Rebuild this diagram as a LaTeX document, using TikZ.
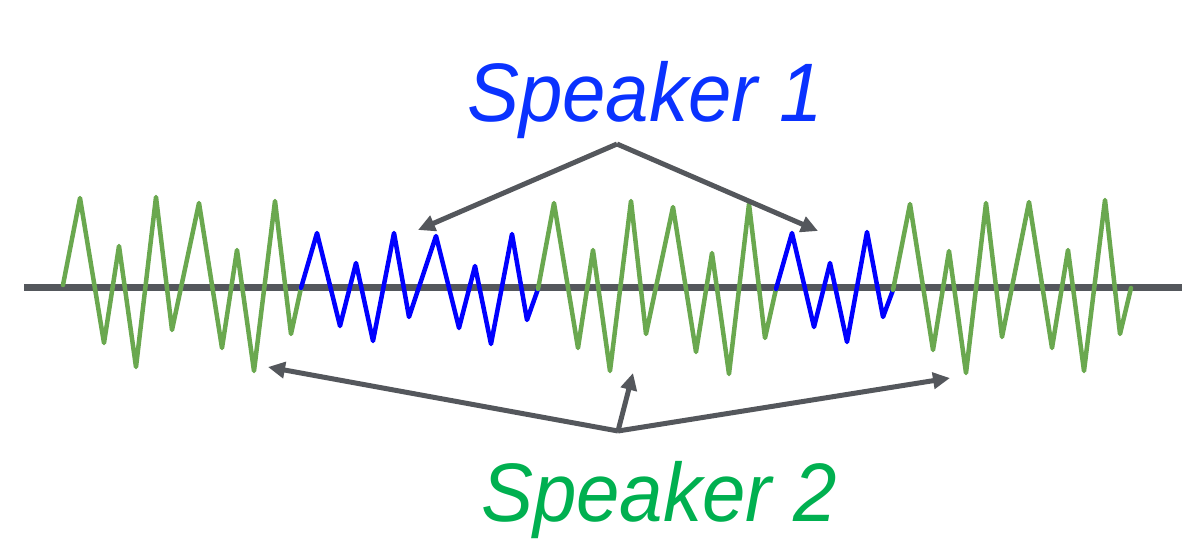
\documentclass[tikz,border=0pt]{standalone}
\usepackage{fontspec}
\setmainfont{Liberation Sans}
\newfontfamily\labfont[FakeStretch=0.94]{Liberation Sans}
\usetikzlibrary{arrows.meta}
\definecolor{axisgray}{HTML}{54575C}
\definecolor{wavegreen}{HTML}{6AA84F}
\definecolor{waveblue}{HTML}{0000FF}
\definecolor{txtblue}{HTML}{0A32FF}
\definecolor{txtgreen}{HTML}{00B050}
\tikzset{
  axisline/.style={line width=7pt, draw=axisgray},
  greenwave/.style={line width=4.5pt, draw=wavegreen, line join=round, line cap=round},
  bluewave/.style={line width=4.5pt, draw=waveblue, line join=round, line cap=round},
  pointer/.style={line width=5pt, draw=axisgray, -{Triangle[length=17pt,width=16pt]}, line join=round},
  speaker/.style={font=\labfont\itshape\fontsize{83}{83}\selectfont, inner sep=0pt, anchor=base}
}
\begin{document}
\begin{tikzpicture}[x=1pt,y=-1pt]
\useasboundingbox (0,0) rectangle (1182,540);
% axis
\coordinate (axL) at (24,287);
\coordinate (axR) at (1182,287);
\draw[axisline] (axL) -- (axR);
% waveform
\draw[greenwave] (63,285) -- (80,198) -- (104,343) -- (119,246) -- (136,367) -- (156,197) -- (172,330) -- (199,203) -- (222,348) -- (237,250) -- (254,371) -- (275,201) -- (291,334) -- (301,288);
\draw[bluewave] (301,288) -- (317,233) -- (340,326) -- (356,263) -- (373,341) -- (394,233) -- (409,317) -- (436,236) -- (459,328) -- (475,266) -- (491,344) -- (512,234) -- (527,320) -- (538,289);
\draw[greenwave] (538,289) -- (554,203) -- (578,348) -- (593,250) -- (610,371) -- (631,201) -- (646,334) -- (673,207) -- (696,352) -- (712,253) -- (729,374) -- (749,204) -- (765,338) -- (776,289);
\draw[bluewave] (776,289) -- (792,233) -- (814,327) -- (830,263) -- (847,342) -- (867,232) -- (883,317) -- (893,290);
\draw[greenwave] (893,290) -- (910,204) -- (933,350) -- (949,251) -- (966,373) -- (986,203) -- (1002,337) -- (1029,202) -- (1052,348) -- (1068,250) -- (1084,371) -- (1105,200) -- (1120,334) -- (1131,288);
% labels
\node[speaker, text=txtblue] (sp1) at (645,122) {Speaker 1};
\node[speaker, text=txtgreen] (sp2) at (659,521) {Speaker 2};
% pointers
\coordinate (apex1) at (617,144);
\coordinate (t1a) at (418,230);
\coordinate (t1b) at (818,231);
\draw[pointer] (apex1) -- (t1a);
\draw[pointer] (apex1) -- (t1b);
\coordinate (apex2) at (618,431);
\coordinate (t2a) at (268,367);
\coordinate (t2b) at (633,373);
\coordinate (t2c) at (950,378);
\draw[pointer] (apex2) -- (t2a);
\draw[pointer] (apex2) -- (t2b);
\draw[pointer] (apex2) -- (t2c);
\end{tikzpicture}
\end{document}
